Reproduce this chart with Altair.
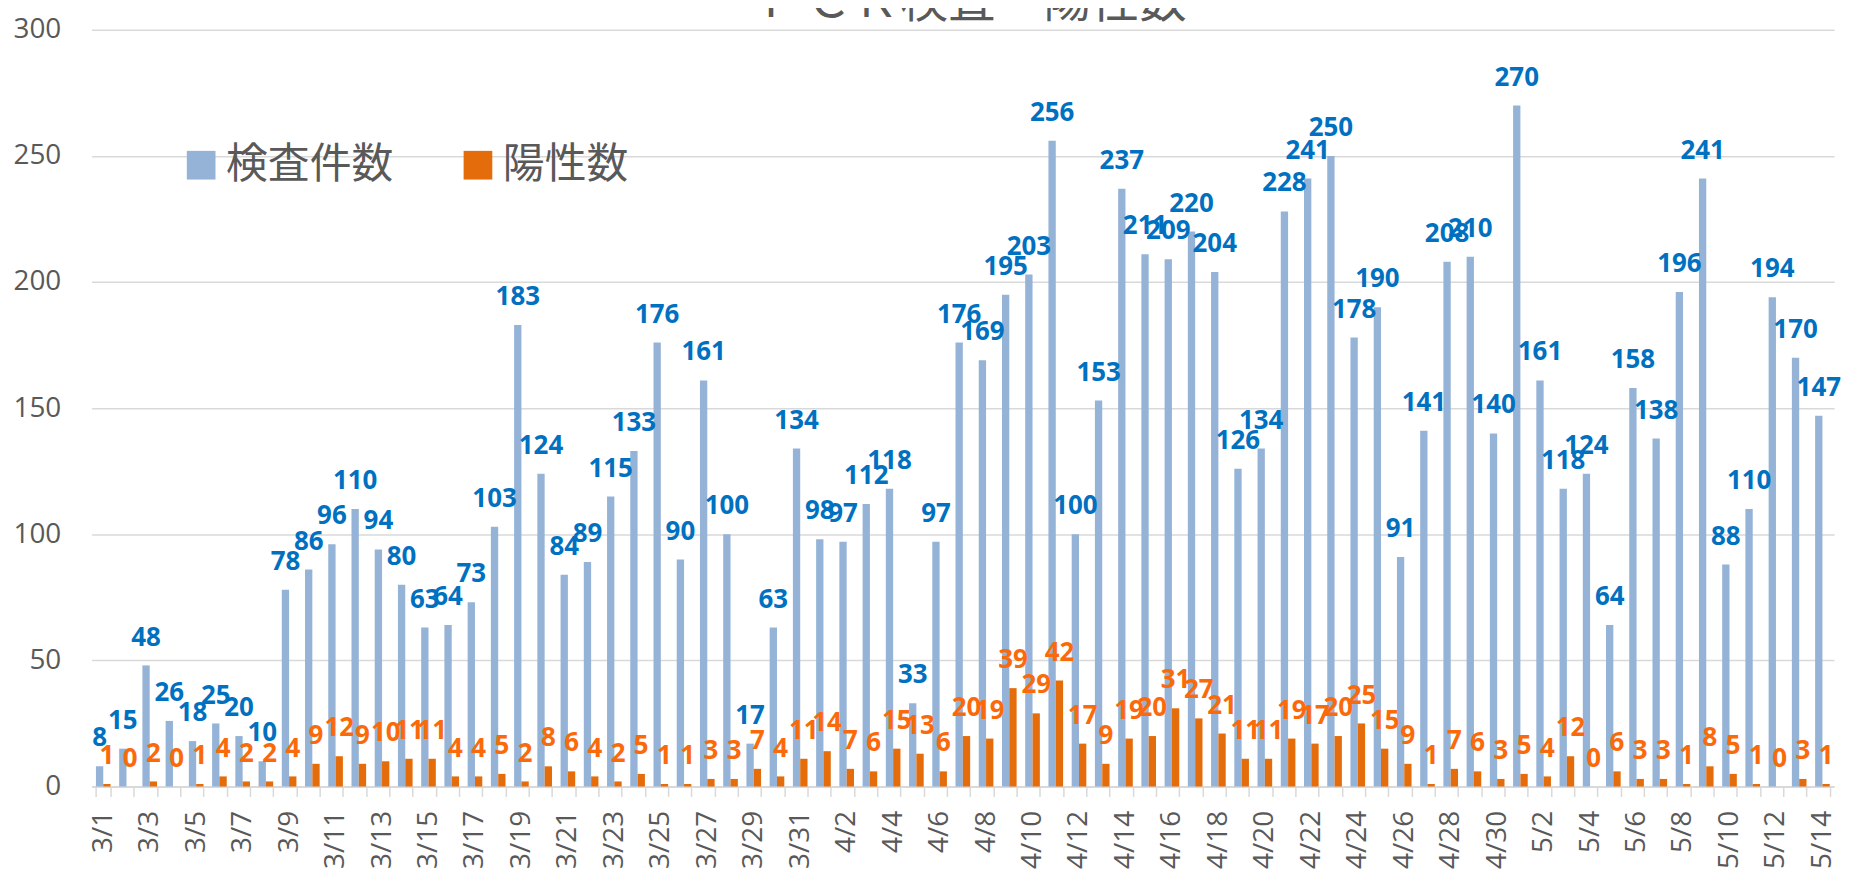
import json
import altair as alt
import pandas as pd

dates = [
    "3/1", "3/2", "3/3", "3/4", "3/5", "3/6", "3/7", "3/8", "3/9", "3/10",
    "3/11", "3/12", "3/13", "3/14", "3/15", "3/16", "3/17", "3/18", "3/19", "3/20",
    "3/21", "3/22", "3/23", "3/24", "3/25", "3/26", "3/27", "3/28", "3/29", "3/30",
    "3/31",
    "4/1", "4/2", "4/3", "4/4", "4/5", "4/6", "4/7", "4/8", "4/9", "4/10",
    "4/11", "4/12", "4/13", "4/14", "4/15", "4/16", "4/17", "4/18", "4/19", "4/20",
    "4/21", "4/22", "4/23", "4/24", "4/25", "4/26", "4/27", "4/28", "4/29", "4/30",
    "5/1", "5/2", "5/3", "5/4", "5/5", "5/6", "5/7", "5/8", "5/9", "5/10",
    "5/11", "5/12", "5/13", "5/14",
]

tests = [
    8, 15, 48, 26, 18, 25, 20, 10, 78, 86,
    96, 110, 94, 80, 63, 64, 73, 103, 183, 124,
    84, 89, 115, 133, 176, 90, 161, 100, 17, 63,
    134,
    98, 97, 112, 118, 33, 97, 176, 169, 195, 203,
    256, 100, 153, 237, 211, 209, 220, 204, 126, 134,
    228, 241, 250, 178, 190, 91, 141, 208, 210, 140,
    270, 161, 118, 124, 64, 158, 138, 196, 241, 88,
    110, 194, 170, 147,
]

positives = [
    1, 0, 2, 0, 1, 4, 2, 2, 4, 9,
    12, 9, 10, 11, 11, 4, 4, 5, 2, 8,
    6, 4, 2, 5, 1, 1, 3, 3, 7, 4,
    11,
    14, 7, 6, 15, 13, 6, 20, 19, 39, 29,
    42, 17, 9, 19, 20, 31, 27, 21, 11, 11,
    19, 17, 20, 25, 15, 9, 1, 7, 6, 3,
    5, 4, 12, 0, 6, 3, 3, 1, 8, 5,
    1, 0, 3, 1,
]

series_names = ["検査件数", "陽性数"]
bar_colors = ["#95B3D7", "#E46C0A"]
label_colors = ["#0070C0", "#FA6A0A"]
title_text = "ＰＣＲ検査・陽性数"
y_ticks = [0, 50, 100, 150, 200, 250, 300]

rows = []
for d, t, p in zip(dates, tests, positives):
    rows.append({"date": d, "series": series_names[0], "value": t})
    rows.append({"date": d, "series": series_names[1], "value": p})
df = pd.DataFrame(rows)

label_expr = (
    "indexof(" + json.dumps(dates) + ", datum.value) % 2 == 0 ? datum.value : ''"
)

x_enc = alt.X(
    "date:N",
    sort=dates,
    scale=alt.Scale(paddingInner=0.37, paddingOuter=0.185),
    axis=alt.Axis(
        title=None,
        labelAngle=-90,
        labelExpr=label_expr,
        labelFont="Open Sans",
        labelFontSize=28,
        labelColor="#595959",
        labelPadding=14,
        labelOverlap=False,
        tickBand="extent",
        tickSize=10,
        tickColor="#D9D9D9",
        tickWidth=1.5,
        domainColor="#D9D9D9",
        domainWidth=2,
        grid=False,
    ),
)
xo_enc = alt.XOffset(
    "series:N",
    sort=series_names,
    scale=alt.Scale(domain=series_names, paddingInner=0, paddingOuter=0),
)
y_enc = alt.Y(
    "value:Q",
    scale=alt.Scale(domain=[0, 300], nice=False),
    axis=alt.Axis(
        title=None,
        values=y_ticks,
        grid=True,
        gridColor="#D9D9D9",
        gridWidth=1.5,
        domain=False,
        ticks=False,
        labelFont="Open Sans",
        labelFontSize=28,
        labelColor="#595959",
        labelPadding=31,
    ),
)

base = alt.Chart(df)

bars = base.mark_bar().encode(
    x=x_enc,
    xOffset=xo_enc,
    y=y_enc,
    color=alt.Color(
        "series:N",
        sort=series_names,
        scale=alt.Scale(domain=series_names, range=bar_colors),
        legend=alt.Legend(
            title=None,
            orient="none",
            legendX=89,
            legendY=115,
            direction="horizontal",
            symbolType="square",
            symbolSize=830,
            symbolStrokeWidth=0,
            symbolOpacity=1,
            labelFont="Noto Sans CJK JP",
            labelFontSize=42,
            labelColor="#595959",
            labelOffset=4,
            labelLimit=400,
            columnPadding=63,
        ),
    ),
)

def labels(name, color):
    return (
        base.transform_filter(alt.datum.series == name)
        .mark_text(
            font="Open Sans",
            fontWeight="bold",
            fontSize=26,
            baseline="alphabetic",
            align="center",
            dy=-20,
            color=color,
        )
        .encode(x=x_enc, xOffset=xo_enc, y=y_enc, text="value:Q")
    )

chart = (
    alt.layer(bars, labels(series_names[0], label_colors[0]), labels(series_names[1], label_colors[1]))
    .properties(
        width=1750,
        height=760,
        autosize=alt.AutoSizeParams(type="none"),
        padding={"left": 84, "top": 20, "right": 10, "bottom": 90},
        title=alt.TitleParams(
            title_text,
            font="Noto Sans CJK JP",
            fontSize=48,
            fontWeight="normal",
            color="#595959",
            anchor="middle",
            frame="group",
            baseline="alphabetic",
            offset=-49,
            dx=9,
        ),
        background="white",
    )
    .configure_view(stroke=None)
)

chart.save("out.html", embed_options={"renderer": "svg", "actions": False})
